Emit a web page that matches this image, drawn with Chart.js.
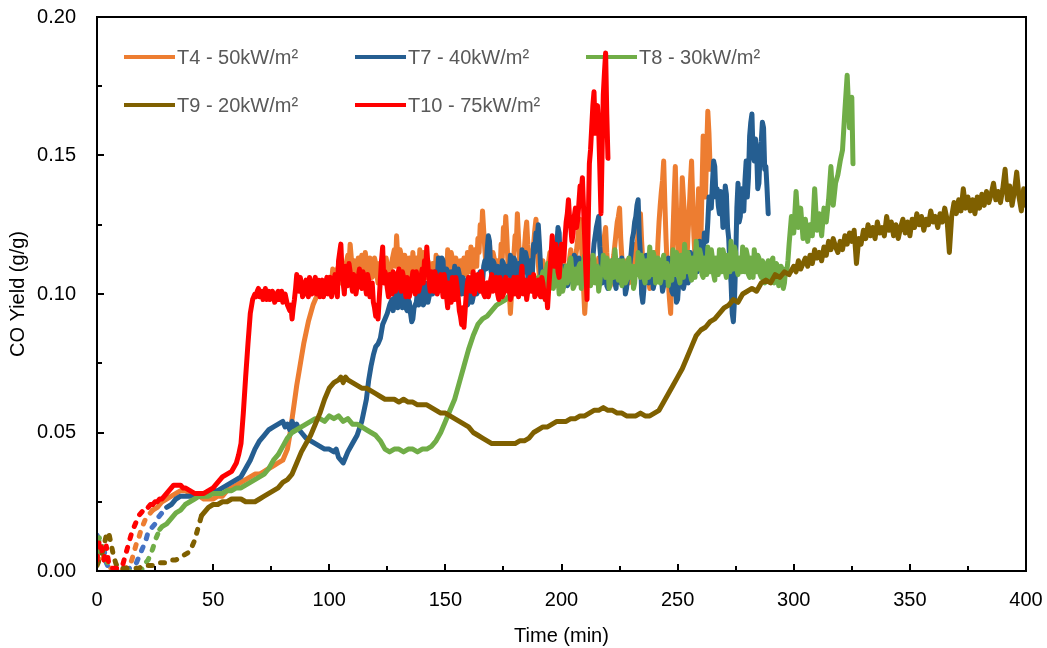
<!DOCTYPE html>
<html>
<head>
<meta charset="utf-8">
<title>CO Yield</title>
<script src="https://cdn.jsdelivr.net/npm/chart.js@4.4.1/dist/chart.umd.min.js"></script>
<style>
    html, body { margin: 0; padding: 0; background: #ffffff; }
    canvas { display: block; }
</style>
</head>
<body>
<canvas id="coChart" width="1047" height="648"></canvas>
<script>
// Series names and heat flux
const seriesLabels = ['T4 - 50kW/m²', 'T7 - 40kW/m²', 'T8 - 30kW/m²', 'T9 - 20kW/m²', 'T10 - 75kW/m²'];

// Time (min) up to which each test is plotted dashed (start-up phase)
const dashedUntil = [24, 30, 27, 45, 22];

// Tick values
const xTicks = [0, 50, 100, 150, 200, 250, 300, 350, 400];
const yTicks = [0, 0.05, 0.10, 0.15, 0.20];

// [time (min), CO yield (g/g)] - one reading per minute
const t4Data = [[0,0.003],[2,0.006],[4,0.003],[6,0.001],[8,0.000],[10,0.000],[12,0.001],[14,0.002],[15,0.004],[16,0.007],[17,0.010],[18,0.012],[19,0.015],[20,0.017],[21,0.019],[22,0.020],[23,0.021],[24,0.022],
    [26,0.023],[28,0.025],[30,0.026],[32,0.027],[34,0.028],[36,0.029],[38,0.029],[40,0.028],[42,0.027],[44,0.027],[46,0.026],[48,0.026],[50,0.026],[52,0.027],[54,0.027],[56,0.029],[58,0.030],[60,0.031],[62,0.032],[64,0.033],[66,0.034],[68,0.035],[70,0.035],[72,0.036],[74,0.037],[76,0.038],[78,0.039],[80,0.040],
    [82,0.044],[83,0.049],[84,0.055],[85,0.061],[86,0.067],[87,0.072],[88,0.077],[89,0.082],[90,0.086],[91,0.090],[92,0.093],[93,0.096],[94,0.098],[95,0.100],[96,0.101],[97,0.101],[98,0.103],[99,0.102],[100,0.106],
    [101,0.104],[102,0.108],[103,0.105],[104,0.110],[105,0.104],[106,0.111],[107,0.107],[108,0.114],[109,0.118],[110,0.108],[111,0.112],[112,0.106],[113,0.111],[114,0.114],[115,0.108],[116,0.112],[117,0.105],[118,0.110],[119,0.107],[120,0.111],
    [121,0.104],[122,0.109],[123,0.113],[124,0.106],[125,0.110],[126,0.104],[127,0.112],[128,0.116],[129,0.121],[130,0.110],[131,0.114],[132,0.107],[133,0.112],[134,0.105],[135,0.110],[136,0.115],[137,0.106],[138,0.111],[139,0.116],[140,0.109],
    [141,0.113],[142,0.106],[143,0.110],[144,0.104],[145,0.109],[146,0.114],[147,0.107],[148,0.112],[149,0.105],[150,0.110],[151,0.116],[152,0.108],[153,0.113],[154,0.106],[155,0.111],[156,0.104],[157,0.109],[158,0.113],[159,0.107],[160,0.112],
    [161,0.117],[162,0.109],[163,0.114],[164,0.120],[165,0.125],[166,0.130],[167,0.116],[168,0.111],[169,0.118],[170,0.108],[171,0.113],[172,0.106],[173,0.112],[174,0.118],[175,0.124],[176,0.128],[177,0.110],[178,0.093],[179,0.108],[180,0.121],
    [181,0.129],[182,0.112],[183,0.106],[184,0.116],[185,0.126],[186,0.113],[187,0.107],[188,0.118],[189,0.127],[190,0.111],[191,0.104],[192,0.112],[193,0.098],[194,0.108],[195,0.115],[196,0.106],[197,0.112],[198,0.103],[199,0.110],[200,0.105],
    [201,0.111],[202,0.104],[203,0.109],[204,0.116],[205,0.107],[206,0.113],[207,0.120],[208,0.127],[209,0.112],[210,0.093],[211,0.106],[212,0.111],[213,0.104],[214,0.110],[215,0.105],[216,0.113],[217,0.107],[218,0.119],[219,0.124],[220,0.109],
    [221,0.103],[222,0.111],[223,0.118],[224,0.126],[225,0.131],[226,0.113],[227,0.106],[228,0.112],[229,0.104],[230,0.110],[231,0.118],[232,0.107],[233,0.123],[234,0.129],[235,0.112],[236,0.104],[237,0.110],[238,0.102],[239,0.109],[240,0.115],
    [241,0.108],[242,0.126],[243,0.137],[244,0.148],[245,0.120],[246,0.104],[247,0.093],[248,0.122],[249,0.146],[250,0.118],[251,0.107],[252,0.142],[253,0.128],[254,0.112],[255,0.130],[256,0.148],[257,0.121],[258,0.108],[259,0.138],[260,0.118],
    [261,0.157],[262,0.135],[263,0.166],[264,0.145]];

const t7Data = [[0,0.013],[1,0.011],[2,0.006],[3,0.008],[4,0.003],[5,0.001],[6,0.000],[8,0.000],[10,0.000],[12,0.000],[14,0.001],[16,0.002],[17,0.003],[18,0.005],[19,0.007],[20,0.009],[21,0.011],[22,0.014],[23,0.015],[24,0.016],[25,0.017],[26,0.019],[27,0.020],[28,0.021],[29,0.022],[30,0.023],
    [32,0.024],[34,0.026],[36,0.027],[38,0.027],[40,0.027],[42,0.027],[44,0.027],[46,0.028],[48,0.028],[50,0.029],[52,0.029],[54,0.030],[56,0.031],[58,0.032],[60,0.033],[62,0.034],[64,0.037],[66,0.040],[68,0.044],[70,0.047],[72,0.049],[74,0.051],[76,0.052],[78,0.053],[80,0.054],
    [81,0.052],[82,0.053],[83,0.051],[84,0.054],[85,0.052],[86,0.053],[87,0.051],[88,0.050],[90,0.048],[92,0.047],[94,0.046],[96,0.045],[98,0.044],[100,0.044],[102,0.043],[103,0.044],[104,0.041],[105,0.040],[106,0.039],[107,0.041],[108,0.043],[110,0.046],[112,0.049],[114,0.054],[116,0.062],[117,0.069],[118,0.074],[119,0.078],[120,0.081],
    [121,0.082],[122,0.084],[123,0.089],[124,0.091],[125,0.093],[126,0.096],[127,0.098],[128,0.097],[129,0.099],[130,0.097],[131,0.100],[132,0.096],[133,0.095],[134,0.098],[135,0.093],[136,0.091],[137,0.096],[138,0.101],[139,0.098],[140,0.102],
    [141,0.097],[142,0.103],[143,0.099],[144,0.101],[145,0.104],[146,0.108],[147,0.113],[148,0.106],[149,0.112],[150,0.104],[151,0.108],[152,0.101],[153,0.106],[154,0.110],[155,0.103],[156,0.107],[157,0.100],[158,0.105],[159,0.102],[160,0.097],
    [161,0.103],[162,0.099],[163,0.106],[164,0.101],[165,0.108],[166,0.104],[167,0.112],[168,0.116],[169,0.119],[170,0.107],[171,0.111],[172,0.103],[173,0.109],[174,0.104],[175,0.111],[176,0.105],[177,0.110],[178,0.114],[179,0.106],[180,0.112],
    [181,0.104],[182,0.110],[183,0.116],[184,0.108],[185,0.113],[186,0.105],[187,0.111],[188,0.118],[189,0.122],[190,0.125],[191,0.110],[192,0.100],[193,0.108],[194,0.103],[195,0.109],[196,0.104],[197,0.112],[198,0.118],[199,0.122],[200,0.108],
    [201,0.103],[202,0.109],[203,0.104],[204,0.112],[205,0.106],[206,0.113],[207,0.107],[208,0.111],[209,0.104],[210,0.109],[211,0.114],[212,0.106],[213,0.111],[214,0.118],[215,0.124],[216,0.128],[217,0.112],[218,0.106],[219,0.110],[220,0.102],
    [221,0.108],[222,0.112],[223,0.104],[224,0.110],[225,0.106],[226,0.113],[227,0.108],[228,0.102],[229,0.109],[230,0.115],[231,0.122],[232,0.128],[233,0.134],[234,0.114],[235,0.097],[236,0.109],[237,0.113],[238,0.105],[239,0.111],[240,0.104],
    [241,0.108],[242,0.112],[243,0.106],[244,0.103],[245,0.109],[246,0.113],[247,0.106],[248,0.100],[249,0.104],[250,0.098],[251,0.103],[252,0.110],[253,0.104],[254,0.112],[255,0.106],[256,0.113],[257,0.108],[258,0.116],[259,0.110],[260,0.118],
    [261,0.112],[262,0.121],[263,0.126],[264,0.133],[265,0.140],[266,0.146],[267,0.138],[268,0.129],[269,0.134],[270,0.126],[271,0.136],[272,0.120],[273,0.104],[274,0.090],[275,0.112],[276,0.140],[277,0.128],[278,0.133],[279,0.141],[280,0.135],
    [281,0.157],[282,0.165],[283,0.148],[284,0.152],[285,0.140],[286,0.155],[287,0.160],[288,0.146],[289,0.129]];

const t8Data = [[0,0.006],[1,0.012],[2,0.010],[3,0.006],[4,0.004],[5,0.002],[6,0.001],[8,0.000],[10,0.000],[12,0.000],[14,0.000],[16,0.000],[18,0.000],[20,0.001],[21,0.003],[22,0.004],[23,0.006],[24,0.008],[25,0.011],[26,0.013],[27,0.015],
    [28,0.016],[30,0.017],[32,0.019],[34,0.021],[36,0.022],[38,0.024],[40,0.025],[42,0.026],[44,0.027],[46,0.027],[48,0.027],[50,0.028],[52,0.028],[54,0.028],[56,0.029],[58,0.029],[60,0.030],[62,0.030],[64,0.031],[66,0.032],[68,0.033],[70,0.034],[72,0.035],[74,0.037],[76,0.040],[78,0.042],[80,0.045],
    [82,0.048],[84,0.050],[86,0.051],[88,0.052],[90,0.053],[92,0.054],[94,0.055],[96,0.055],[98,0.054],[100,0.056],[102,0.055],[104,0.056],[106,0.054],[108,0.055],[110,0.053],[112,0.053],[114,0.052],[116,0.051],[118,0.050],[120,0.049],
    [122,0.047],[124,0.044],[126,0.043],[128,0.044],[130,0.044],[132,0.043],[134,0.044],[136,0.044],[138,0.043],[140,0.044],[142,0.044],[144,0.045],[146,0.047],[148,0.050],[150,0.054],[152,0.058],[154,0.062],[156,0.068],[158,0.074],[160,0.080],
    [162,0.085],[164,0.089],[166,0.091],[168,0.092],[170,0.094],[172,0.096],[174,0.097],[176,0.098],[178,0.100],[180,0.101],[182,0.103],[184,0.102],[186,0.104],[188,0.103],[190,0.106],
    [191,0.101],[192,0.108],[193,0.104],[194,0.111],[195,0.102],[196,0.109],[197,0.105],[198,0.112],[199,0.100],[200,0.107],[201,0.103],[202,0.110],[203,0.106],[204,0.113],[205,0.102],[206,0.109],[207,0.104],[208,0.111],[209,0.107],[210,0.114],
    [211,0.103],[212,0.110],[213,0.105],[214,0.112],[215,0.108],[216,0.101],[217,0.109],[218,0.114],[219,0.106],[220,0.111],[221,0.104],[222,0.110],[223,0.116],[224,0.107],[225,0.112],[226,0.103],[227,0.110],[228,0.105],[229,0.113],[230,0.108],
    [231,0.102],[232,0.110],[233,0.115],[234,0.106],[235,0.112],[236,0.104],[237,0.110],[238,0.117],[239,0.107],[240,0.113],[241,0.105],[242,0.111],[243,0.106],[244,0.114],[245,0.108],[246,0.103],[247,0.110],[248,0.116],[249,0.107],[250,0.113],
    [251,0.104],[252,0.111],[253,0.118],[254,0.108],[255,0.113],[256,0.105],[257,0.111],[258,0.119],[259,0.109],[260,0.114],[261,0.106],[262,0.112],[263,0.117],[264,0.108],[265,0.113],[266,0.105],[267,0.111],[268,0.116],[269,0.108],[270,0.114],
    [271,0.106],[272,0.112],[273,0.119],[274,0.109],[275,0.115],[276,0.107],[277,0.112],[278,0.117],[279,0.108],[280,0.114],[281,0.106],[282,0.111],[283,0.116],[284,0.108],[285,0.113],[286,0.106],[287,0.111],[288,0.105],[289,0.112],[290,0.107],
    [291,0.113],[292,0.106],[293,0.110],[294,0.105],[295,0.109],[296,0.104],[297,0.108],[298,0.118],[299,0.128],[300,0.122],[301,0.137],[302,0.124],[303,0.131],[304,0.120],[305,0.127],[306,0.119],[307,0.125],[308,0.121],[309,0.138],[310,0.123],
    [311,0.129],[312,0.121],[313,0.131],[314,0.126],[315,0.134],[316,0.146],[317,0.132],[318,0.140],[319,0.143],[320,0.148],[321,0.152],[322,0.166],[323,0.179],[324,0.160],[325,0.171],[325.5,0.147]];

const t9Data = [[0,0.002],[1,0.004],[2,0.006],[3,0.009],[4,0.013],[5,0.014],[6,0.010],[7,0.006],[8,0.003],[9,0.001],[10,0.001],[12,0.001],[14,0.001],[16,0.001],[18,0.001],[20,0.002],[22,0.002],[24,0.002],[26,0.003],[28,0.003],[30,0.003],[32,0.004],[34,0.004],[36,0.005],[38,0.006],[40,0.007],[41,0.009],[42,0.011],[43,0.014],[44,0.017],[45,0.020],
    [46,0.021],[47,0.022],[48,0.023],[50,0.024],[52,0.024],[54,0.025],[56,0.025],[58,0.026],[60,0.026],[62,0.026],[64,0.025],[66,0.025],[68,0.025],[70,0.026],[72,0.027],[74,0.028],[76,0.029],[78,0.030],[80,0.032],[82,0.033],[84,0.035],[86,0.039],[88,0.043],[90,0.046],
    [92,0.049],[94,0.053],[96,0.057],[98,0.062],[100,0.066],[102,0.068],[104,0.069],[105,0.070],[106,0.068],[107,0.070],[108,0.069],[110,0.068],[112,0.067],[114,0.066],[116,0.066],[118,0.065],[120,0.064],[122,0.063],[124,0.062],[126,0.062],[128,0.062],[130,0.061],
    [132,0.062],[134,0.061],[136,0.061],[138,0.060],[140,0.060],[142,0.060],[144,0.059],[146,0.058],[148,0.057],[150,0.057],[152,0.056],[154,0.055],[156,0.054],[158,0.053],[160,0.052],[162,0.050],[164,0.049],[166,0.048],[168,0.047],[170,0.046],
    [172,0.046],[174,0.046],[176,0.046],[178,0.046],[180,0.046],[182,0.047],[184,0.047],[186,0.048],[188,0.050],[190,0.051],[192,0.052],[194,0.052],[196,0.053],[198,0.054],[200,0.054],[202,0.054],[204,0.055],[206,0.055],[208,0.056],[210,0.056],
    [212,0.057],[214,0.058],[216,0.058],[218,0.059],[220,0.058],[222,0.058],[224,0.057],[226,0.057],[228,0.056],[230,0.056],[232,0.056],[234,0.057],[236,0.056],[238,0.056],[240,0.057],[242,0.058],[244,0.061],[246,0.064],[248,0.067],[250,0.070],
    [252,0.073],[254,0.077],[256,0.081],[258,0.085],[260,0.087],[262,0.088],[264,0.090],[266,0.091],[268,0.093],[270,0.095],[272,0.096],[274,0.098],[276,0.097],[278,0.100],[280,0.101],[282,0.102],[284,0.101],[286,0.104],[288,0.105],[290,0.104],
    [292,0.107],[294,0.106],[296,0.108],[298,0.107],[300,0.110],[301,0.108],[302,0.112],[303,0.109],[304,0.111],[305,0.113],[306,0.110],[307,0.114],[308,0.111],[309,0.116],[310,0.113],[311,0.115],[312,0.112],[313,0.117],[314,0.114],[315,0.119],
    [316,0.116],[317,0.120],[318,0.117],[319,0.115],[320,0.119],[321,0.116],[322,0.121],[323,0.118],[324,0.122],[325,0.119],[326,0.123],[327,0.111],[328,0.120],[329,0.118],[330,0.123],[331,0.120],[332,0.125],[333,0.121],[334,0.124],[335,0.120],
    [336,0.126],[337,0.122],[338,0.124],[339,0.121],[340,0.128],[341,0.123],[342,0.126],[343,0.121],[344,0.125],[345,0.120],[346,0.124],[347,0.127],[348,0.122],[349,0.126],[350,0.121],[351,0.127],[352,0.124],[353,0.129],[354,0.125],[355,0.128],
    [356,0.123],[357,0.127],[358,0.125],[359,0.130],[360,0.126],[361,0.128],[362,0.124],[363,0.129],[364,0.126],[365,0.131],[366,0.127],[367,0.115],[368,0.128],[369,0.133],[370,0.129],[371,0.134],[372,0.130],[373,0.138],[374,0.131],[375,0.135],
    [376,0.130],[377,0.134],[378,0.129],[379,0.135],[380,0.131],[381,0.136],[382,0.132],[383,0.137],[384,0.133],[385,0.136],[386,0.140],[387,0.134],[388,0.137],[389,0.133],[390,0.138],[391,0.145],[392,0.134],[393,0.139],[394,0.132],[395,0.137],
    [396,0.144],[397,0.135],[398,0.130],[399,0.138],[400,0.132]];

const t10Data = [[0,0.004],[1,0.011],[2,0.008],[3,0.004],[4,0.009],[5,0.003],[6,0.001],[8,0.001],[10,0.001],[11,0.002],[12,0.005],[13,0.008],[14,0.011],[15,0.014],[16,0.016],[17,0.018],[18,0.020],[19,0.021],[20,0.022],[21,0.023],[22,0.023],
    [23,0.024],[24,0.024],[25,0.025],[26,0.025],[27,0.026],[28,0.026],[29,0.027],[30,0.028],[31,0.029],[32,0.030],[33,0.031],[34,0.031],[35,0.031],[36,0.031],[37,0.030],[38,0.030],[40,0.029],[42,0.028],[44,0.028],[46,0.028],[48,0.029],[50,0.030],
    [52,0.032],[54,0.034],[56,0.035],[58,0.036],[60,0.039],[61,0.042],[62,0.046],[63,0.057],[64,0.070],[65,0.082],[66,0.093],[67,0.098],[68,0.100],[69,0.101],[70,0.099],[71,0.101],[72,0.100],[73,0.098],[74,0.101],[75,0.099],[76,0.100],[77,0.098],[78,0.101],[79,0.099],[80,0.097],
    [81,0.100],[82,0.096],[83,0.094],[84,0.091],[85,0.098],[86,0.107],[87,0.101],[88,0.104],[89,0.100],[90,0.105],[91,0.099],[92,0.104],[93,0.101],[94,0.106],[95,0.102],[96,0.099],[97,0.105],[98,0.101],[99,0.106],[100,0.103],
    [101,0.099],[102,0.104],[103,0.102],[104,0.112],[105,0.118],[106,0.104],[107,0.110],[108,0.103],[109,0.108],[110,0.101],[111,0.106],[112,0.103],[113,0.109],[114,0.102],[115,0.106],[116,0.100],[117,0.105],[118,0.102],[119,0.097],[120,0.092],
    [121,0.091],[122,0.105],[123,0.117],[124,0.108],[125,0.102],[126,0.107],[127,0.100],[128,0.106],[129,0.103],[130,0.109],[131,0.101],[132,0.106],[133,0.099],[134,0.104],[135,0.102],[136,0.108],[137,0.100],[138,0.105],[139,0.103],[140,0.109],
    [141,0.112],[142,0.117],[143,0.104],[144,0.108],[145,0.101],[146,0.106],[147,0.102],[148,0.107],[149,0.099],[150,0.104],[151,0.095],[152,0.101],[153,0.106],[154,0.098],[155,0.103],[156,0.094],[157,0.089],[158,0.088],[159,0.100],[160,0.106],
    [161,0.101],[162,0.108],[163,0.103],[164,0.107],[165,0.101],[166,0.105],[167,0.099],[168,0.104],[169,0.101],[170,0.107],[171,0.102],[172,0.106],[173,0.098],[174,0.103],[175,0.100],[176,0.106],[177,0.101],[178,0.098],[179,0.103],[180,0.100],
    [181,0.106],[182,0.101],[183,0.110],[184,0.103],[185,0.098],[186,0.104],[187,0.101],[188,0.107],[189,0.100],[190,0.105],[191,0.099],[192,0.104],[193,0.098],[194,0.095],[195,0.108],[196,0.121],[197,0.110],[198,0.115],[199,0.106],[200,0.118],
    [201,0.112],[202,0.126],[203,0.134],[204,0.124],[205,0.122],[206,0.131],[207,0.127],[208,0.139],[209,0.142],[210,0.120],[211,0.098],[212,0.147],[213,0.160],[214,0.173],[215,0.165],[216,0.160],[217,0.129],[218,0.172],[219,0.187],[220,0.149]];

// Extra half-minute readings in the fluctuating (flaming) part of each test
const t4Half = [[100.5,0.103],[101.5,0.109],[102.5,0.104],[103.5,0.109],[104.5,0.107],[105.5,0.109],[106.5,0.105],[107.5,0.112],[108.5,0.110],[109.5,0.113],[110.5,0.111],[111.5,0.107],[112.5,0.113],[113.5,0.108],[114.5,0.111],[115.5,0.115],[116.5,0.107],[117.5,0.113],[118.5,0.106],[119.5,0.113],
    [120.5,0.107],[121.5,0.111],[122.5,0.106],[123.5,0.109],[124.5,0.113],[125.5,0.107],[126.5,0.109],[127.5,0.114],[128.5,0.110],[129.5,0.113],[130.5,0.116],[131.5,0.109],[132.5,0.114],[133.5,0.108],[134.5,0.113],[135.5,0.107],[136.5,0.110],[137.5,0.113],[138.5,0.107],[139.5,0.112],
    [140.5,0.115],[141.5,0.108],[142.5,0.112],[143.5,0.106],[144.5,0.111],[145.5,0.106],[146.5,0.110],[147.5,0.113],[148.5,0.107],[149.5,0.112],[150.5,0.106],[151.5,0.111],[152.5,0.115],[153.5,0.108],[154.5,0.113],[155.5,0.106],[156.5,0.112],[157.5,0.106],[158.5,0.110],[159.5,0.115],
    [160.5,0.108],[161.5,0.112],[162.5,0.116],[163.5,0.110],[164.5,0.115],[165.5,0.120],[166.5,0.123],[167.5,0.110],[168.5,0.116],[169.5,0.112],[170.5,0.115],[171.5,0.108],[172.5,0.112],[173.5,0.107],[174.5,0.113],[175.5,0.119],[176.5,0.120],[177.5,0.101],[178.5,0.100],[179.5,0.114],
    [180.5,0.117],[181.5,0.120],[182.5,0.108],[183.5,0.112],[184.5,0.122],[185.5,0.118],[186.5,0.108],[187.5,0.112],[188.5,0.123],[189.5,0.119],[190.5,0.106],[191.5,0.109],[192.5,0.104],[193.5,0.103],[194.5,0.112],[195.5,0.110],[196.5,0.109],[197.5,0.106],[198.5,0.107],[199.5,0.103],
    [200.5,0.109],[201.5,0.106],[202.5,0.107],[203.5,0.113],[204.5,0.111],[205.5,0.110],[206.5,0.116],[207.5,0.124],[208.5,0.119],[209.5,0.102],[210.5,0.100],[211.5,0.109],[212.5,0.106],[213.5,0.108],[214.5,0.107],[215.5,0.110],[216.5,0.109],[217.5,0.112],[218.5,0.121],[219.5,0.115],
    [220.5,0.105],[221.5,0.108],[222.5,0.114],[223.5,0.122],[224.5,0.128],[225.5,0.120],[226.5,0.108],[227.5,0.110],[228.5,0.107],[229.5,0.108],[230.5,0.114],[231.5,0.112],[232.5,0.116],[233.5,0.127],[234.5,0.119],[235.5,0.107],[236.5,0.106],[237.5,0.105],[238.5,0.106],[239.5,0.112],
    [240.5,0.111],[241.5,0.118],[242.5,0.132],[243.5,0.141],[244.5,0.133],[245.5,0.110],[246.5,0.098],[247.5,0.108],[248.5,0.135],[249.5,0.131],[250.5,0.111],[251.5,0.125],[252.5,0.135],[253.5,0.119],[254.5,0.122],[255.5,0.140],[256.5,0.134],[257.5,0.113],[258.5,0.124],[259.5,0.127],
    [260.5,0.138],[261.5,0.145],[262.5,0.152],[263.5,0.158]];

const t7Half = [[127.5,0.094],[128.5,0.101],[129.5,0.095],[130.5,0.101],[131.5,0.095],[132.5,0.098],[133.5,0.094],[134.5,0.097],[135.5,0.090],[136.5,0.095],[137.5,0.097],[138.5,0.096],[139.5,0.103],[140.5,0.096],[141.5,0.104],[142.5,0.097],[143.5,0.104],[144.5,0.100],[145.5,0.108],[146.5,0.105],
    [147.5,0.108],[148.5,0.113],[149.5,0.103],[150.5,0.109],[151.5,0.102],[152.5,0.108],[153.5,0.103],[154.5,0.106],[155.5,0.109],[156.5,0.101],[157.5,0.106],[158.5,0.100],[159.5,0.096],[160.5,0.104],[161.5,0.097],[162.5,0.105],[163.5,0.100],[164.5,0.107],[165.5,0.102],[166.5,0.110],
    [167.5,0.109],[168.5,0.121],[169.5,0.109],[170.5,0.112],[171.5,0.104],[172.5,0.110],[173.5,0.103],[174.5,0.112],[175.5,0.104],[176.5,0.110],[177.5,0.107],[178.5,0.104],[179.5,0.113],[180.5,0.105],[181.5,0.111],[182.5,0.107],[183.5,0.109],[184.5,0.115],[185.5,0.106],[186.5,0.112],
    [187.5,0.108],[188.5,0.115],[189.5,0.120],[190.5,0.118],[191.5,0.099],[192.5,0.106],[193.5,0.101],[194.5,0.110],[195.5,0.103],[196.5,0.111],[197.5,0.114],[198.5,0.124],[199.5,0.110],[200.5,0.102],[201.5,0.110],[202.5,0.103],[203.5,0.111],[204.5,0.105],[205.5,0.114],[206.5,0.106],
    [207.5,0.113],[208.5,0.105],[209.5,0.111],[210.5,0.107],[211.5,0.112],[212.5,0.104],[213.5,0.113],[214.5,0.121],[215.5,0.126],[216.5,0.117],[217.5,0.104],[218.5,0.111],[219.5,0.103],[220.5,0.109],[221.5,0.105],[222.5,0.110],[223.5,0.102],[224.5,0.112],[225.5,0.104],[226.5,0.110],
    [227.5,0.100],[228.5,0.107],[229.5,0.111],[230.5,0.120],[231.5,0.126],[232.5,0.132],[233.5,0.121],[234.5,0.100],[235.5,0.102],[236.5,0.114],[237.5,0.104],[238.5,0.112],[239.5,0.102],[240.5,0.110],[241.5,0.106],[242.5,0.111],[243.5,0.101],[244.5,0.107],[245.5,0.112],[246.5,0.104],
    [247.5,0.101],[248.5,0.106],[249.5,0.097],[250.5,0.104],[251.5,0.108],[252.5,0.102],[253.5,0.110],[254.5,0.104],[255.5,0.115],[256.5,0.106],[257.5,0.114],[258.5,0.108],[259.5,0.119],[260.5,0.110],[261.5,0.122],[262.5,0.119],[263.5,0.135],[264.5,0.131],[265.5,0.148],[266.5,0.135],
    [267.5,0.132],[268.5,0.137],[269.5,0.124],[270.5,0.139],[271.5,0.124],[272.5,0.110],[273.5,0.093],[274.5,0.098],[275.5,0.131],[276.5,0.126],[277.5,0.138],[278.5,0.130],[279.5,0.148],[280.5,0.142],[281.5,0.162],[282.5,0.150],[283.5,0.156],[284.5,0.138],[285.5,0.150],[286.5,0.162],
    [287.5,0.145],[288.5,0.138]];

const t8Half = [[190.5,0.100],[191.5,0.106],[192.5,0.101],[193.5,0.109],[194.5,0.105],[195.5,0.111],[196.5,0.102],[197.5,0.108],[198.5,0.106],[199.5,0.110],[200.5,0.101],[201.5,0.107],[202.5,0.104],[203.5,0.111],[204.5,0.108],[205.5,0.103],[206.5,0.107],[207.5,0.110],[208.5,0.102],[209.5,0.112],
    [210.5,0.109],[211.5,0.106],[212.5,0.103],[213.5,0.114],[214.5,0.104],[215.5,0.110],[216.5,0.104],[217.5,0.107],[218.5,0.110],[219.5,0.113],[220.5,0.102],[221.5,0.112],[222.5,0.106],[223.5,0.111],[224.5,0.105],[225.5,0.109],[226.5,0.112],[227.5,0.104],[228.5,0.111],[229.5,0.106],
    [230.5,0.110],[231.5,0.104],[232.5,0.107],[233.5,0.109],[234.5,0.114],[235.5,0.106],[236.5,0.112],[237.5,0.106],[238.5,0.110],[239.5,0.115],[240.5,0.104],[241.5,0.113],[242.5,0.104],[243.5,0.112],[244.5,0.106],[245.5,0.111],[246.5,0.106],[247.5,0.105],[248.5,0.111],[249.5,0.115],
    [250.5,0.106],[251.5,0.114],[252.5,0.106],[253.5,0.111],[254.5,0.115],[255.5,0.107],[256.5,0.113],[257.5,0.106],[258.5,0.112],[259.5,0.116],[260.5,0.107],[261.5,0.113],[262.5,0.107],[263.5,0.111],[264.5,0.116],[265.5,0.107],[266.5,0.113],[267.5,0.107],[268.5,0.111],[269.5,0.116],
    [270.5,0.108],[271.5,0.114],[272.5,0.108],[273.5,0.112],[274.5,0.117],[275.5,0.109],[276.5,0.113],[277.5,0.108],[278.5,0.112],[279.5,0.116],[280.5,0.107],[281.5,0.113],[282.5,0.106],[283.5,0.111],[284.5,0.114],[285.5,0.107],[286.5,0.112],[287.5,0.104],[288.5,0.110],[289.5,0.106],
    [290.5,0.112],[291.5,0.104],[292.5,0.111],[293.5,0.103],[294.5,0.110],[295.5,0.102],[296.5,0.109],[297.5,0.112]];

const t10Half = [[68.5,0.099],[69.5,0.102],[70.5,0.100],[71.5,0.098],[72.5,0.102],[73.5,0.100],[74.5,0.098],[75.5,0.101],[76.5,0.097],[77.5,0.100],[78.5,0.098],[79.5,0.101],[80.5,0.099],[81.5,0.098],[82.5,0.095],[83.5,0.096],[84.5,0.095],[85.5,0.102],[86.5,0.103],[87.5,0.106],
    [88.5,0.099],[89.5,0.103],[90.5,0.101],[91.5,0.106],[92.5,0.100],[93.5,0.104],[94.5,0.100],[95.5,0.105],[96.5,0.103],[97.5,0.099],[98.5,0.104],[99.5,0.100],[100.5,0.106],[101.5,0.102],[102.5,0.107],[103.5,0.099],[104.5,0.115],[105.5,0.108],[106.5,0.100],[107.5,0.106],
    [108.5,0.111],[109.5,0.104],[110.5,0.107],[111.5,0.100],[112.5,0.106],[113.5,0.104],[114.5,0.108],[115.5,0.103],[116.5,0.107],[117.5,0.099],[118.5,0.104],[119.5,0.095],[120.5,0.096],[121.5,0.098],[122.5,0.112],[123.5,0.104],[124.5,0.106],[125.5,0.099],[126.5,0.104],[127.5,0.108],
    [128.5,0.101],[129.5,0.107],[130.5,0.103],[131.5,0.108],[132.5,0.102],[133.5,0.106],[134.5,0.099],[135.5,0.105],[136.5,0.103],[137.5,0.108],[138.5,0.101],[139.5,0.106],[140.5,0.104],[141.5,0.108],[142.5,0.110],[143.5,0.101],[144.5,0.105],[145.5,0.108],[146.5,0.100],[147.5,0.105],
    [148.5,0.103],[149.5,0.107],[150.5,0.099],[151.5,0.104],[152.5,0.097],[153.5,0.102],[154.5,0.106],[155.5,0.099],[156.5,0.092],[157.5,0.095],[158.5,0.094],[159.5,0.104],[160.5,0.102],[161.5,0.105],[162.5,0.100],[163.5,0.105],[164.5,0.103],[165.5,0.108],[166.5,0.100],[167.5,0.103],
    [168.5,0.099],[169.5,0.105],[170.5,0.101],[171.5,0.104],[172.5,0.100],[173.5,0.106],[174.5,0.099],[175.5,0.104],[176.5,0.102],[177.5,0.105],[178.5,0.100],[179.5,0.106],[180.5,0.103],[181.5,0.099],[182.5,0.106],[183.5,0.100],[184.5,0.105],[185.5,0.101],[186.5,0.106],[187.5,0.103],
    [188.5,0.099],[189.5,0.104],[190.5,0.101],[191.5,0.106],[192.5,0.100],[193.5,0.101],[194.5,0.102],[195.5,0.114],[196.5,0.113],[197.5,0.118],[198.5,0.108],[199.5,0.112],[200.5,0.114],[201.5,0.120],[202.5,0.129],[203.5,0.127],[204.5,0.119],[205.5,0.128],[206.5,0.124],[207.5,0.133],
    [208.5,0.137],[209.5,0.131],[210.5,0.108],[211.5,0.125],[212.5,0.152],[213.5,0.168],[214.5,0.158],[215.5,0.168],[216.5,0.145],[217.5,0.152],[218.5,0.180],[219.5,0.165]];

function byTime(a, b) { return a[0] - b[0]; }
const allData = [
    t4Data.concat(t4Half).sort(byTime),
    t7Data.concat(t7Half).sort(byTime),
    t8Data.concat(t8Half).sort(byTime),
    t9Data,
    t10Data.concat(t10Half).sort(byTime)
];
const lineColors = ['#ED7D31', '#255E91', '#70AD47', '#7F6000', '#FF0000'];
const dashColors = ['#ED7D31', '#4472C4', '#70AD47', '#7F6000', '#FF0000'];

const fontFamily = '"Liberation Sans", Arial, sans-serif';
const lineWidth = 5;

// every line element (and its segments) inherits these
Chart.defaults.elements.line.borderWidth = lineWidth;
Chart.defaults.elements.line.borderJoinStyle = 'round';
Chart.defaults.elements.line.borderCapStyle = 'round';

// Frame, inward tick marks and the in-plot legend
const plotDecor = {
    id: 'plotDecor',
    beforeDatasetsDraw(chart) {
        const { ctx, chartArea } = chart;
        // legend sits under the data lines
        const cols = [27, 258, 489];
        const rows = [40, 88];
        const slots = [[0, 0], [1, 0], [2, 0], [0, 1], [1, 1]];
        ctx.save();
        ctx.font = '20px ' + fontFamily;
        ctx.textBaseline = 'middle';
        ctx.textAlign = 'left';
        chart.data.datasets.forEach(function (ds, i) {
            const x = chartArea.left + cols[slots[i][0]];
            const y = chartArea.top + rows[slots[i][1]];
            ctx.strokeStyle = ds.borderColor;
            ctx.lineWidth = 4;
            ctx.beginPath();
            ctx.moveTo(x, y);
            ctx.lineTo(x + 51, y);
            ctx.stroke();
            ctx.fillStyle = '#595959';
            ctx.fillText(ds.label, x + 53, y + 1);
        });
        ctx.restore();
    },
    afterDatasetsDraw(chart) {
        const { ctx, chartArea: a, scales } = chart;
        ctx.save();
        ctx.strokeStyle = '#000000';
        ctx.lineWidth = 2;
        ctx.strokeRect(a.left, a.top, a.right - a.left, a.bottom - a.top);
        ctx.beginPath();
        for (let v = 0; v <= 400; v += 25) {
            const px = Math.round(scales.x.getPixelForValue(v));
            const len = v % 50 === 0 ? 7 : 5;
            ctx.moveTo(px, a.bottom);
            ctx.lineTo(px, a.bottom - len);
        }
        for (let k = 0; k <= 8; k++) {
            const py = Math.round(scales.y.getPixelForValue(k * 0.025));
            const len = k % 2 === 0 ? 7 : 5;
            ctx.moveTo(a.left, py);
            ctx.lineTo(a.left + len, py);
        }
        ctx.stroke();
        ctx.restore();
    }
};

const coCtx = document.getElementById('coChart').getContext('2d');
const coChart = new Chart(coCtx, {
    type: 'line',
    data: {
        datasets: seriesLabels.map(function (label, i) {
            return {
                label: label,
                data: allData[i].map(p => ({ x: p[0], y: p[1] })),
                borderColor: lineColors[i],
                borderWidth: lineWidth,
                pointRadius: 0,
                tension: 0,
                order: seriesLabels.length - i,
                segment: {
                    borderWidth: lineWidth,
                    borderDash: ctx => ctx.p1.parsed.x <= dashedUntil[i] ? [4, 9] : [],
                    borderColor: ctx => ctx.p1.parsed.x <= dashedUntil[i] ? dashColors[i] : lineColors[i]
                }
            };
        })
    },
    options: {
        responsive: false,
        animation: false,
        devicePixelRatio: 1,
        layout: { padding: { left: 0, top: 17, right: 21, bottom: 0 } },
        plugins: {
            legend: { display: false },
            tooltip: { enabled: false }
        },
        scales: {
            x: {
                type: 'linear',
                min: 0,
                max: 400,
                afterFit: scale => {
                    scale.height = 77;
                    // labels may overhang the plot edges; the layout padding covers them
                    scale.paddingLeft = 0;
                    scale.paddingRight = 0;
                },
                afterBuildTicks: scale => { scale.ticks = xTicks.map(v => ({ value: v })); },
                grid: { display: false, drawTicks: false },
                border: { display: false },
                ticks: { color: '#000000', font: { family: fontFamily, size: 20 }, padding: 17, maxRotation: 0 },
                title: { display: true, text: 'Time (min)', color: '#000000', font: { family: fontFamily, size: 20 }, padding: { top: 7, bottom: 0 } }
            },
            y: {
                min: 0,
                max: 0.2,
                afterFit: scale => {
                    scale.width = 97;
                    scale.paddingTop = 0;
                    scale.paddingBottom = 0;
                },
                afterBuildTicks: scale => { scale.ticks = yTicks.map(v => ({ value: v })); },
                grid: { display: false, drawTicks: false },
                border: { display: false },
                ticks: { color: '#000000', font: { family: fontFamily, size: 20 }, padding: 21, callback: v => v.toFixed(2) },
                title: { display: true, text: 'CO Yield (g/g)', color: '#000000', font: { family: fontFamily, size: 20 }, padding: { top: 6, bottom: 0 } }
            }
        }
    },
    plugins: [plotDecor]
});
</script>
</body>
</html>
